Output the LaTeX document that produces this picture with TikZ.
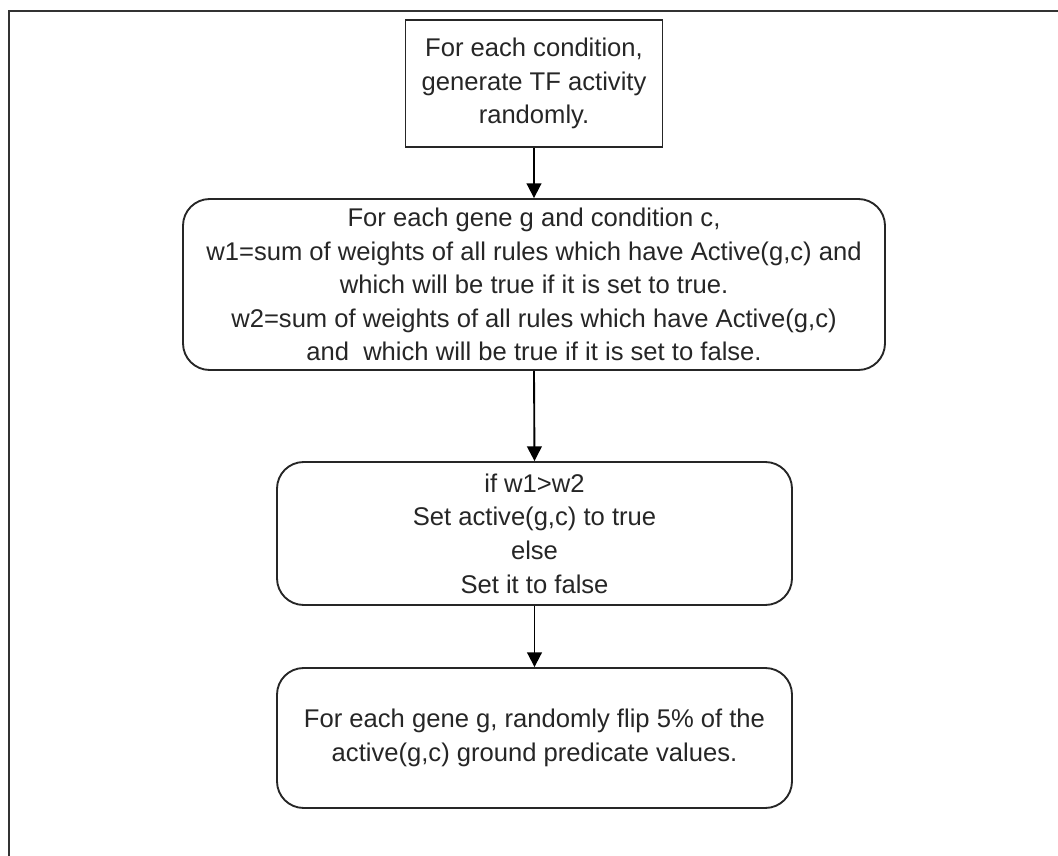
\documentclass[tikz,border=0pt]{standalone}
\usepackage{fontspec}
\setmainfont{Liberation Sans}
\usetikzlibrary{arrows.meta}
\begin{document}
\begin{tikzpicture}[x=0.75pt,y=-0.75pt,
  box/.style={draw=black!85,line width=1.4pt,align=center,inner sep=0pt,
    font=\fontsize{19.2pt}{25.2pt}\selectfont,text=black!85},
  rbox/.style={box,rounded corners=20pt},
  conn/.style={draw=black,line width=1.4pt,-{Triangle[length=11pt,width=11pt]}}]
\useasboundingbox (0,0) rectangle (1058,856);
\clip (0,0) rectangle (1058,856);
\fill[white] (0,0) rectangle (1058,856);
\coordinate (fa) at (9,880);
\coordinate (fb) at (9,11);
\coordinate (fc) at (1080,11);
\draw[black!80,line width=1.5pt] (fa) -- (fb) -- (fc);
\node[box,minimum width=192.75pt,minimum height=95.25pt] (n1) at (534,83.5)
  {For each condition,\\generate TF activity\\randomly.};
\node[rbox,minimum width=526.5pt,minimum height=128.25pt] (n2) at (534,284.5)
  {For each gene g and condition c,\\
   w1=sum of weights of all rules which have Active(g,c) and\\
   which will be true if it is set to true.\\
   w2=sum of weights of all rules which have Active(g,c)\\
   and~ which will be true if it is set to false.};
\node[rbox,minimum width=386.25pt,minimum height=107.25pt] (n3) at (534.5,533.5)
  {if w1>w2\\Set active(g,c) to true\\else\\Set it to false};
\node[rbox,minimum width=386.25pt,minimum height=105pt] (n4) at (534.5,738)
  {For each gene g, randomly flip 5\% of the\\active(g,c) ground predicate values.};
\draw[conn] (n1.south) -- (n2.north);
\draw[conn] (n2.south) -- (n3.north);
\draw[conn] (n3.south) -- (n4.north);
\end{tikzpicture}
\end{document}
